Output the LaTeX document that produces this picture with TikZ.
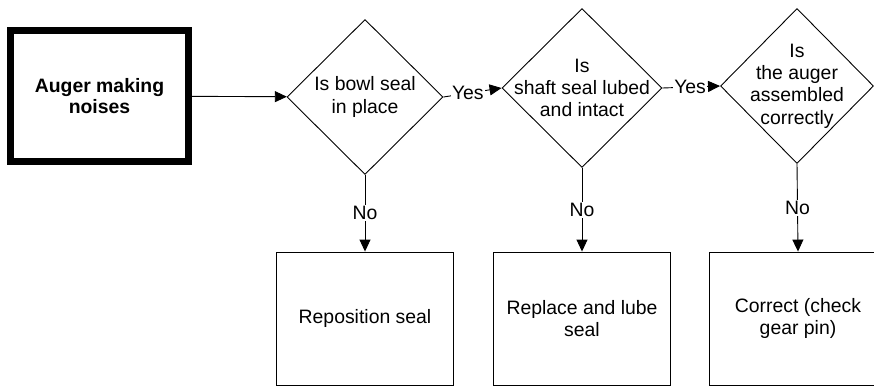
\documentclass[tikz,border=0pt]{standalone}
\usepackage{fontspec}
\setmainfont{Liberation Sans}
\usetikzlibrary{shapes.geometric,arrows.meta}

\tikzset{
    decision/.style={draw, shape=diamond, inner sep=0pt},
    action/.style={draw, minimum width=177pt, minimum height=133pt, align=center},
    flow/.style={-{Triangle[length=12pt,width=11pt]}},
    answer/.style={fill=white, inner sep=1pt},
}

\begin{document}
\begin{tikzpicture}[x=1pt, y=-1pt, line width=0.9pt, font=\fontsize{19.4}{22.4}\selectfont]
    \useasboundingbox (0,0) rectangle (874,386);
    \clip (0,0) rectangle (874,386);
    \node[draw, line width=7pt, minimum width=178pt, minimum height=131pt, align=center, font=\fontsize{19.4}{21.5}\selectfont\bfseries] (noises) at (99.5,96) {Auger making\\noises};
    \node[decision, minimum width=156pt, minimum height=155pt, label={[align=center]center:Is bowl seal\\in place}] (bowlseal) at (365,97) {};
    \node[decision, minimum width=160pt, minimum height=159pt, label={[align=center]center:Is\\shaft seal lubed\\and intact}] (shaftseal) at (582,88) {};
    \node[decision, minimum width=153pt, minimum height=155pt, label={[align=center]center:Is\\the auger\\assembled\\correctly}] (assembled) at (797,86) {};
    \node[action] (reposition) at (365,318.5) {Reposition seal};
    \node[action] (replace) at (582,318.5) {Replace and lube\\seal};
    \node[action] (correct) at (798,318.5) {Correct (check\\gear pin)};
    \draw[flow] (noises) -- (bowlseal);
    \draw[flow] (bowlseal.east) -- node[answer, pos=0.42]{Yes} (shaftseal.west);
    \draw[flow] (shaftseal.east) -- node[answer, pos=0.48]{Yes} (assembled.west);
    \draw[flow] (bowlseal.south) -- node[answer]{No} (reposition.north);
    \draw[flow] (shaftseal.south) -- node[answer]{No} (replace.north);
    \draw[flow] (assembled.south) -- node[answer]{No} (correct.north);
\end{tikzpicture}
\end{document}
